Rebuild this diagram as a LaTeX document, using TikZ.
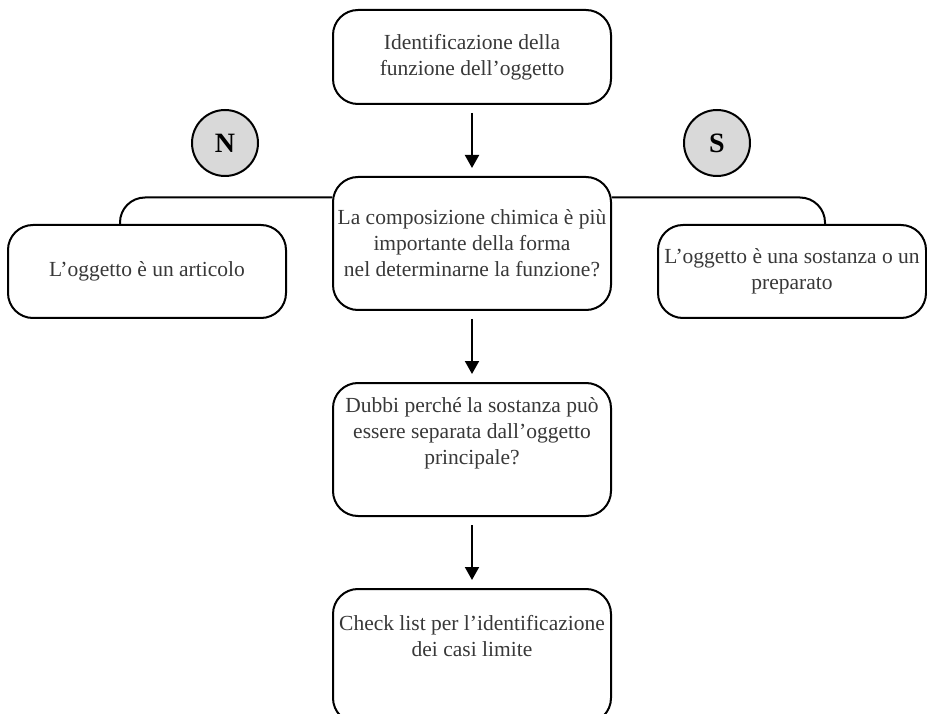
\documentclass[tikz,border=0pt]{standalone}
\usepackage{fontspec}
\setmainfont{Liberation Serif}
\usetikzlibrary{positioning,arrows.meta}
\begin{document}
\begin{tikzpicture}[x=1pt, y=-1pt, node distance={71pt},
  box/.style = {draw, line width=2pt, rounded corners=25pt, minimum width=278pt, align=center, inner sep=2pt, text=black!78, font=\fontsize{21.5}{26}\selectfont},
  answer/.style = {draw, circle, line width=2pt, fill=black!15, minimum size=66pt, font=\fontsize{28}{30}\selectfont\bfseries},
  arrow/.style = {line width=2pt, -{Triangle[width=14pt,length=13pt]}, shorten <=8pt, shorten >=8pt},
  link/.style = {line width=2pt, rounded corners=25pt}]
\useasboundingbox (0,0) rectangle (927,714);
\clip (0,0) rectangle (927,714);

\node[box, minimum height=94pt] (funz) at (472,57) {Identificazione della\\ funzione dell'oggetto};
\node[box, minimum height=133pt] (chim) [below=of funz] {La composizione chimica è più\\ importante della forma\\ nel determinarne la funzione?};
\node[box, minimum height=133pt] (dubbi) [below=of chim] {Dubbi perché la sostanza può\\ essere separata dall'oggetto\\ principale?\\[10pt]\mbox{}};
\node[box, minimum height=134pt] (check) [below=of dubbi] {Check list per l'identificazione\\ dei casi limite\\[15pt]\mbox{}};

\node[box, minimum height=93pt] (arti) at (147,271.5) {L'oggetto è un articolo};
\node[box, minimum height=93pt, minimum width=268pt] (sost) at (792,271.5) {L'oggetto è una sostanza o un\\ preparato};

\node[answer] (no) at (225,143) {N};
\node[answer] (si) at (717,143) {S};

\draw[arrow] (funz) -- (chim);
\draw[arrow] (chim) -- (dubbi);
\draw[arrow] (dubbi) -- (check);
\draw[link] ([yshift=46pt]chim.west) -| ([xshift=-27pt]arti.north);
\draw[link] ([yshift=46pt]chim.east) -| ([xshift=33pt]sost.north);
\end{tikzpicture}
\end{document}
